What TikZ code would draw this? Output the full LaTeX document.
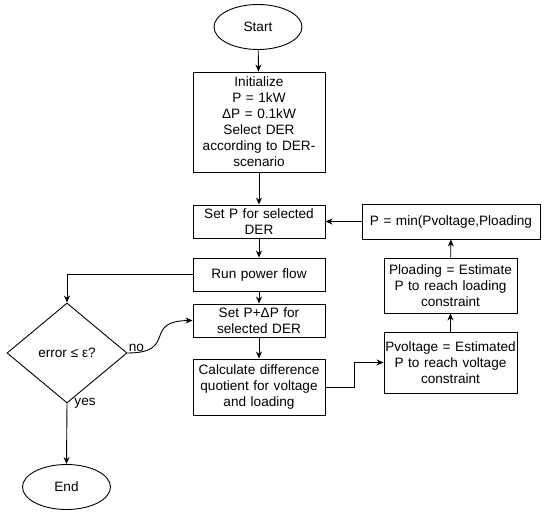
\documentclass[tikz,border=0pt]{standalone}
\usepackage{fontspec}
\setmainfont{Liberation Sans}
\usetikzlibrary{shapes.geometric,arrows.meta}

\begin{document}
\begin{tikzpicture}[x=1pt, y=-1pt, -{Stealth[length=7pt,width=6pt]}, line width=0.9pt,
    every node/.style={font=\fontsize{13.6}{16}\selectfont},
    box/.style={draw, rectangle, fill=white, align=center, inner ysep=2pt, inner xsep=0pt, text width=132pt},
    term/.style={draw, ellipse, fill=white, inner sep=0pt, minimum width=88pt, minimum height=45pt},
    decision/.style={draw, diamond, fill=white, inner sep=0pt, minimum width=120pt, minimum height=100pt},
    lbl/.style={inner sep=1pt}]
    \useasboundingbox (0,0) rectangle (550,514);
    %nodes
    \node[term] at (258,27) (start) {Start};
    \node[box, minimum height=100pt] at (259,122) (init) {Initialize\\P = 1kW\\ΔP = 0.1kW\\Select DER\\according to DER-\\scenario};
    \node[box, minimum height=33pt] at (259,221.5) (setp) {Set P for selected\\ DER};
    \node[box, minimum height=33pt] at (259,274.5) (run) {Run power flow};
    \node[box, minimum height=33pt] at (259,320.5) (setdp) {Set P+ΔP for\\selected DER};
    \node[box, minimum height=56pt] at (259,387) (calc) {Calculate difference\\quotient for voltage\\and loading};
    \node[box, text width=133pt, minimum height=61pt] at (450.5,362.5) (pvolt) {Pvoltage = Estimated\\P to reach voltage\\constraint};
    \node[box, text width=133pt, minimum height=55pt] at (450.5,285.5) (pload) {Ploading = Estimate\\P to reach loading\\constraint};
    \node[box, text width=178pt, minimum height=35pt] at (451,221.5) (pmin) {P = min(Pvoltage,Ploading};
    \node[decision] at (67,353) (dec) {error ≤ ε?};
    \node[term] at (66.5,487) (end) {End};
    %connectors
    \path
        (start) edge (init)
        (init) edge (setp)
        (setp) edge (run)
        (run) edge (setdp)
        (setdp) edge (calc)
        (pvolt) edge (pload)
        (pload) edge (pmin)
        (pmin.west) edge (setp.east);
    \draw (calc.east) -- ++(29,0) |- (pvolt.west);
    \draw (run.west) -| (dec.north);
    \draw (dec.east) .. controls (178,353) and (142,321) .. node[lbl, pos=0, above right] {no} (setdp.west);
    \draw (dec.south) -- node[lbl, pos=0, right, xshift=6pt] {yes} (end.north);
\end{tikzpicture}
\end{document}
